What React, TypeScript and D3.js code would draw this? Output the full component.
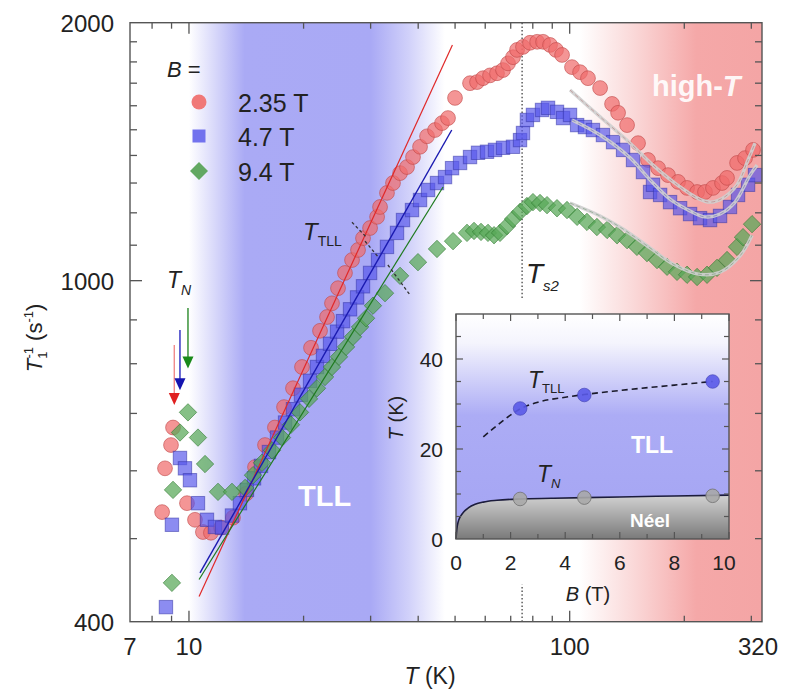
import React from 'react';
import * as d3 from 'd3';

// ---------- DATA (T in K, 1/T1 in s^-1) ----------
const seriesLabels = ['2.35 T', '4.7 T', '9.4 T'];

const red235: [number, number][] = [
  [8.5, 537], [8.65, 604], [8.97, 643], [9.08, 674], [9.88, 550], [10.37, 526], [10.88, 509], [11.42, 508],
  [12.14, 515], [13.05, 529], [14.12, 564], [14.91, 606], [15.84, 643], [16.82, 674], [17.77, 712], [18.76, 749],
  [19.81, 793], [20.92, 835], [22.09, 874], [23.05, 907], [23.75, 941], [24.63, 980], [25.69, 1021], [26.81, 1057],
  [27.8, 1086], [28.65, 1121], [29.9, 1152], [31.2, 1187], [31.76, 1219], [33.12, 1266], [34.35, 1300], [35.85, 1335],
  [37.39, 1357], [38.77, 1394], [40.45, 1433], [42.2, 1474], [44.29, 1499], [46.2, 1527], [47.91, 1548], [49.98, 1634],
  [54.73, 1700], [57.1, 1705], [59.2, 1723], [61.77, 1736], [64.43, 1746], [66.82, 1761], [68.87, 1793], [70.98, 1823],
  [72.73, 1859], [75.4, 1874], [78.68, 1895], [82.13, 1900], [85.13, 1900], [88.8, 1884], [92.07, 1859], [95.5, 1834],
  [101.4, 1775], [106.5, 1751], [111.7, 1723], [120.2, 1678], [129.2, 1608], [134.0, 1570], [141.5, 1519], [151.2, 1447],
  [160.6, 1383], [170.7, 1353], [181.2, 1328], [192.6, 1304], [203.4, 1283], [216.1, 1269], [226.7, 1269], [237.9, 1283],
  [251.3, 1300], [259.0, 1318], [275.2, 1372], [288.8, 1390], [303.1, 1421],
];

const blue47: [number, number][] = [
  [8.7, 416], [9.02, 519], [9.47, 621], [9.76, 604], [10.06, 585], [10.56, 550], [11.15, 526], [11.7, 516],
  [12.21, 515], [12.97, 532], [13.61, 550], [14.2, 570], [14.82, 588], [15.46, 608], [16.22, 631], [17.03, 656],
  [17.88, 683], [18.76, 708], [19.69, 736], [20.8, 764], [21.69, 793], [22.49, 817], [23.47, 844], [24.49, 872],
  [25.39, 897], [26.49, 926], [27.64, 956], [28.65, 985], [29.9, 1021], [31.38, 1057], [33.12, 1095], [35.19, 1137],
  [36.49, 1177], [38.53, 1209], [40.45, 1242], [42.46, 1276], [44.82, 1300], [47.05, 1321], [49.09, 1353], [51.53, 1372],
  [54.73, 1394], [57.44, 1410], [60.65, 1414], [63.66, 1421], [66.82, 1429], [70.98, 1433], [74.06, 1459], [75.4, 1487],
  [77.21, 1540], [80.09, 1561], [84.59, 1582], [87.73, 1591], [92.62, 1574], [96.07, 1548], [100.2, 1561], [104.6, 1519],
  [109.7, 1511], [115.1, 1499], [122.3, 1479], [130.0, 1451], [138.1, 1421], [146.7, 1383], [155.8, 1339], [162.6, 1269],
  [165.5, 1294], [172.8, 1259], [183.5, 1235], [195.0, 1215], [207.1, 1196], [220.0, 1183], [233.7, 1177], [248.3, 1190],
  [263.7, 1219], [276.8, 1259], [294.1, 1294], [306.8, 1328],
];

const green94: [number, number][] = [
  [9.02, 444], [9.08, 570], [9.47, 665], [9.94, 702], [10.56, 656], [11.02, 611], [11.92, 567], [12.97, 567],
  [14.04, 573], [14.73, 593], [15.55, 613], [16.52, 634], [17.55, 656], [18.53, 679], [19.57, 702], [20.67, 728],
  [21.69, 749], [22.77, 772], [23.75, 793], [24.78, 815], [25.86, 837], [26.97, 860], [28.14, 883], [29.18, 904],
  [30.43, 935], [32.73, 967], [35.85, 1013], [39.95, 1051], [44.82, 1089], [49.39, 1112], [53.74, 1137], [56.07, 1143],
  [58.49, 1140], [61.01, 1137], [63.29, 1130], [65.62, 1137], [68.45, 1158], [70.98, 1180], [74.06, 1203], [77.21, 1222],
  [80.09, 1235], [83.58, 1232], [87.2, 1225], [92.62, 1215], [98.4, 1209], [104.6, 1187], [111.0, 1171], [117.9, 1155],
  [125.4, 1146], [133.2, 1130], [141.5, 1115], [150.2, 1095], [159.6, 1077], [169.6, 1057], [180.2, 1038], [191.4, 1024],
  [203.4, 1016], [216.1, 1010], [229.5, 1016], [243.8, 1035], [259.0, 1057], [275.2, 1095], [285.3, 1124], [301.3, 1164],
];

// power-law (TLL) fits
const redTLLFit: [number, number][] = [[10.63, 428], [49.2, 1884]];
const blueTLLFit: [number, number][] = [[10.69, 456], [49.0, 1499]];
const greenTLLFit: [number, number][] = [[10.63, 448], [46.5, 1286]];

// high-T fits
const redHighFit: [number, number][] = [
  [100.2, 1669], [120.2, 1553], [144.1, 1447], [165.5, 1364], [191.4, 1294], [216.1, 1249], [233.7, 1235],
  [252.8, 1249], [275.2, 1294], [294.1, 1383], [306.8, 1447],
];
const blueHighFit: [number, number][] = [
  [101.4, 1540], [120.2, 1479], [144.1, 1391], [162.6, 1311], [183.5, 1245], [207.1, 1206], [226.7, 1187],
  [248.3, 1196], [271.9, 1235], [297.7, 1328], [310.6, 1364],
];
const greenHighFit: [number, number][] = [
  [100.2, 1232], [120.2, 1190], [138.1, 1149], [162.6, 1092], [186.8, 1046], [220.0, 1017], [248.3, 1023],
  [280.2, 1069], [301.3, 1130],
];

// T_TLL marks on the fits: [T0, R0, T1, R1]
const ttllMarks: [number, number, number, number][] = [
  [26.8, 1170, 29.4, 1121],
  [29.0, 1112, 31.6, 1062],
  [33.3, 1043, 38.1, 962],
];

// T_N arrows: [T, R start, R tip]
const tnArrows: [number, number, number][] = [
  [9.15, 841, 716],
  [9.47, 876, 745],
  [9.94, 929, 790],
];

const Ts2 = 75;
const xTicks = [8, 9, 10, 20, 30, 40, 50, 60, 70, 80, 90, 100, 200, 300];
const xLabels = [7, 10, 100, 320];
const yTicks = [500, 600, 700, 800, 900, 1000, 1100, 1200, 1300, 1400, 1500, 1600, 1700, 1800, 1900];
const yLabels = [400, 1000, 2000];

// inset: phase diagram
const insetB = [2.35, 4.7, 9.4];
const insetTTLL = [29, 32, 35];
const insetTN = [8.9, 9.2, 9.6];
const ttllCurve: [number, number][] = [
  [1.0, 22.7], [1.6, 25.7], [2.35, 28.9], [3.0, 30.4], [4.0, 31.5], [4.7, 32.1], [6.0, 33.0], [8.0, 34.2], [9.4, 35],
];
const tnCurve: [number, number][] = [
  [0, 0], [0.03, 2.2], [0.08, 3.8], [0.16, 5.0], [0.28, 6.0], [0.45, 6.9], [0.7, 7.7], [1.0, 8.2], [1.5, 8.6],
  [2.35, 8.9], [3.5, 9.05], [4.7, 9.2], [6.0, 9.35], [8.0, 9.55], [10, 9.75],
];
const insetXTicks = [0, 1, 2, 3, 4, 5, 6, 7, 8, 9, 10];
const insetXLabels = [0, 2, 4, 6, 8, 10];
const insetYTicks = [5, 10, 15, 20, 25, 30, 35, 40, 45];
const insetYLabels = [0, 20, 40];

const FONT = '"Liberation Sans", Arial, Helvetica, sans-serif';

export default function App() {
  const L = 130, R = 762, T = 22.7, B = 621.7;
  const x = d3.scaleLog().domain([7, 320]).range([L, R]);
  const y = d3.scaleLog().domain([400, 2000]).range([B, T]);
  const line = d3.line<[number, number]>().x(d => x(d[0])).y(d => y(d[1]));
  const smooth = d3.line<[number, number]>().x(d => x(d[0])).y(d => y(d[1])).curve(d3.curveCatmullRom);

  const iL = 456, iR = 729, iT = 314, iB = 539;
  const ix = d3.scaleLinear().domain([0, 10]).range([iL, iR]);
  const iy = d3.scaleLinear().domain([0, 50]).range([iB, iT]);
  const iLine = d3.line<[number, number]>().x(d => ix(d[0])).y(d => iy(d[1])).curve(d3.curveMonotoneX);
  const neelArea = d3.area<[number, number]>().x(d => ix(d[0])).y0(iB).y1(d => iy(d[1])).curve(d3.curveMonotoneX);

  const off = (t: number) => ((x(t) - L) / (R - L)).toFixed(4);

  const diamond = (cx: number, cy: number, h: number) => `M${cx},${cy - h}L${cx + h},${cy}L${cx},${cy + h}L${cx - h},${cy}Z`;

  const redFill = '#f06c6c', redStroke = '#c04848';
  const blueFill = '#5656ea', blueStroke = '#3434a8';
  const greenFill = '#58a858', greenStroke = '#2f7a2f';

  const axisColor = '#555';
  const textColor = '#222';

  return (
    <svg width={788} height={693} style={{ position: 'absolute', left: 0, top: 0, display: 'block' }} fontFamily={FONT}>
      <defs>
        <linearGradient id="bg" gradientUnits="userSpaceOnUse" x1={L} x2={R} y1={0} y2={0}>
          <stop offset={0} stopColor="#ffffff" />
          <stop offset={off(10.0)} stopColor="#ffffff" />
          <stop offset={off(11.6)} stopColor="#dadafa" />
          <stop offset={off(14.0)} stopColor="#aaaaf5" />
          <stop offset={off(30)} stopColor="#a9a9f5" />
          <stop offset={off(38)} stopColor="#d2d2fa" />
          <stop offset={off(47)} stopColor="#ffffff" />
          <stop offset={off(106)} stopColor="#ffffff" />
          <stop offset={off(150)} stopColor="#fad6d6" />
          <stop offset={off(215)} stopColor="#f5a8a8" />
          <stop offset={1} stopColor="#f4a5a5" />
        </linearGradient>
        <linearGradient id="ibg" gradientUnits="userSpaceOnUse" x1={0} x2={0} y1={iT} y2={iB}>
          <stop offset={0} stopColor="#ffffff" />
          <stop offset={0.13} stopColor="#f4f4fd" />
          <stop offset={0.45} stopColor="#acacf5" />
          <stop offset={1} stopColor="#a4a4f3" />
        </linearGradient>
        <linearGradient id="neel" gradientUnits="userSpaceOnUse" x1={0} x2={0} y1={iy(10)} y2={iB}>
          <stop offset={0} stopColor="#d4d4d4" />
          <stop offset={1} stopColor="#7a7a7a" />
        </linearGradient>
      </defs>

      {/* background */}
      <rect x={L} y={T} width={R - L} height={B - T} fill="url(#bg)" />

      {/* Ts2 dotted line */}
      <line x1={x(Ts2)} x2={x(Ts2)} y1={y(2000)} y2={y(950)} stroke="#666" strokeWidth={1.6} strokeDasharray="1.5,2.2" />
      <line x1={x(Ts2)} x2={x(Ts2)} y1={y(400)} y2={y(442)} stroke="#666" strokeWidth={1.6} strokeDasharray="1.5,2.2" />

      {/* data */}
      <g>
        {red235.map((d, i) => (
          <circle key={'r' + i} cx={x(d[0])} cy={y(d[1])} r={7.4} fill={redFill} fillOpacity={0.72} stroke={redStroke} strokeOpacity={0.6} strokeWidth={1} />
        ))}
      </g>
      <g>
        {blue47.map((d, i) => (
          <rect key={'b' + i} x={x(d[0]) - 6.7} y={y(d[1]) - 6.7} width={13.4} height={13.4} fill={blueFill} fillOpacity={0.68} stroke={blueStroke} strokeOpacity={0.55} strokeWidth={1} />
        ))}
      </g>
      <g>
        {green94.map((d, i) => (
          <path key={'g' + i} d={diamond(x(d[0]), y(d[1]), 8.7)} fill={greenFill} fillOpacity={0.72} stroke={greenStroke} strokeOpacity={0.6} strokeWidth={1} />
        ))}
      </g>

      {/* TLL power-law fits */}
      <path d={line(redTLLFit) || ''} stroke="#e02828" strokeWidth={1.2} fill="none" />
      <path d={line(blueTLLFit) || ''} stroke="#1a1ab0" strokeWidth={1.4} fill="none" />
      <path d={line(greenTLLFit) || ''} stroke="#1e7a1e" strokeWidth={1.2} fill="none" />

      {/* high-T fits */}
      {[
        [redHighFit, '#a03030'],
        [blueHighFit, '#2020a0'],
        [greenHighFit, '#2a6a2a'],
      ].map(([data, col], i) => (
        <g key={'hf' + i}>
          <path d={smooth(data as [number, number][]) || ''} stroke="#cfcfcf" strokeOpacity={0.92} strokeWidth={3.4} fill="none" />
          <path d={smooth(data as [number, number][]) || ''} stroke={col as string} strokeOpacity={0.4} strokeWidth={0.8} strokeDasharray="4,3" fill="none" />
        </g>
      ))}

      {/* T_TLL marks */}
      {ttllMarks.map((m, i) => (
        <line key={'tm' + i} x1={x(m[0])} y1={y(m[1])} x2={x(m[2])} y2={y(m[3])} stroke="#333" strokeWidth={1.3} strokeDasharray="3,2.5" />
      ))}

      {/* T_N arrows */}
      {tnArrows.map((a, i) => {
        const cols = [['#f08a8a', '#e02020'], ['#2828c0', '#1414b0'], ['#2a8a2a', '#1a8a1a']][i];
        const ax = x(a[0]);
        const y0 = y(a[1]);
        const y1 = y(a[2]);
        return (
          <g key={'ar' + i}>
            <line x1={ax} x2={ax} y1={y0} y2={y1 - 10} stroke={cols[0]} strokeWidth={1.4} />
            <path d={`M${ax - 5.5},${y1 - 12}L${ax + 5.5},${y1 - 12}L${ax},${y1}Z`} fill={cols[1]} />
          </g>
        );
      })}

      {/* frame & ticks */}
      <rect x={L} y={T} width={R - L} height={B - T} fill="none" stroke={axisColor} strokeWidth={1.4} />
      {xTicks.map(t => {
        const len = t === 10 || t === 100 ? 11 : 6;
        return (
          <g key={'xt' + t} stroke={axisColor} strokeWidth={1.3}>
            <line x1={x(t)} x2={x(t)} y1={B} y2={B - len} />
            <line x1={x(t)} x2={x(t)} y1={T} y2={T + len} />
          </g>
        );
      })}
      {yTicks.map(t => {
        const len = t === 1000 ? 12 : 7;
        return (
          <g key={'yt' + t} stroke={axisColor} strokeWidth={1.3}>
            <line x1={L} x2={L + len} y1={y(t)} y2={y(t)} />
            <line x1={R} x2={R - len} y1={y(t)} y2={y(t)} />
          </g>
        );
      })}
      {xLabels.map(t => (
        <text key={'xl' + t} x={t === 320 ? x(t) - 4 : x(t)} y={655} fontSize={24} textAnchor="middle" fill={textColor}>{t}</text>
      ))}
      {yLabels.map(t => (
        <text key={'yl' + t} x={114} y={y(t) + 9} fontSize={24} textAnchor="end" fill={textColor}>{t}</text>
      ))}

      {/* axis titles */}
      <text x={430} y={684} fontSize={23} textAnchor="middle" fill={textColor}>
        <tspan fontStyle="italic">T</tspan> (K)
      </text>
      <text transform="translate(42,338) rotate(-90)" fontSize={22} textAnchor="middle" fill={textColor}>
        <tspan fontStyle="italic">T</tspan>
        <tspan fontSize={13} dy={5}>1</tspan>
        <tspan fontSize={13} dx={-7} dy={-14}>-1</tspan>
        <tspan dy={9}> (s</tspan>
        <tspan fontSize={13} dy={-9}>-1</tspan>
        <tspan dy={9}>)</tspan>
      </text>

      {/* legend */}
      <text x={167} y={77} fontSize={22} fill={textColor}>
        <tspan fontStyle="italic">B</tspan> =
      </text>
      {seriesLabels.map((s, i) => {
        const cy = [102, 136, 171][i];
        return (
          <g key={'lg' + i}>
            {i === 0 && <circle cx={199} cy={cy} r={7.5} fill="#f07878" />}
            {i === 1 && <rect x={192.5} y={cy - 6.5} width={13} height={13} fill="#7272ee" />}
            {i === 2 && <path d={diamond(199, cy, 9)} fill="#62a862" />}
            <text x={238} y={cy + 10} fontSize={25} fill={textColor}>{s}</text>
          </g>
        );
      })}

      {/* annotations */}
      <text x={303} y={240} fontSize={24} fill={textColor}>
        <tspan fontStyle="italic">T</tspan>
        <tspan fontSize={14} dy={6}>TLL</tspan>
      </text>
      <text x={167} y={288} fontSize={23} fill={textColor}>
        <tspan fontStyle="italic">T</tspan>
        <tspan fontSize={14} fontStyle="italic" dy={7}>N</tspan>
      </text>
      <text x={526} y={283} fontSize={28} fill={textColor}>
        <tspan fontStyle="italic">T</tspan>
        <tspan fontSize={15} fontStyle="italic" dy={8}>s2</tspan>
      </text>
      <text x={298} y={506} fontSize={29} fontWeight="bold" fill="#ffffff">TLL</text>
      <text x={652} y={96} fontSize={29} fontWeight="bold" fill="#ffffff" fillOpacity={0.92}>
        high-<tspan fontStyle="italic">T</tspan>
      </text>

      {/* ---------- inset ---------- */}
      <rect x={iL} y={iT} width={iR - iL} height={iB - iT} fill="url(#ibg)" />
      <path d={neelArea(tnCurve) || ''} fill="url(#neel)" />
      <path d={iLine(tnCurve) || ''} stroke="#1c1c3c" strokeWidth={1.6} fill="none" />
      <path d={iLine(ttllCurve) || ''} stroke="#1a1a2a" strokeWidth={1.6} strokeDasharray="6,4" fill="none" />
      {insetB.map((b, i) => (
        <g key={'ip' + i}>
          <circle cx={ix(b)} cy={iy(insetTTLL[i])} r={6.8} fill="#5a5ae8" fillOpacity={0.9} stroke="#4040b0" strokeOpacity={0.6} />
          <circle cx={ix(b)} cy={iy(insetTN[i])} r={6.8} fill="#a8a8a8" fillOpacity={0.9} stroke="#707070" strokeOpacity={0.8} />
        </g>
      ))}
      <rect x={iL} y={iT} width={iR - iL} height={iB - iT} fill="none" stroke={axisColor} strokeWidth={1.4} />
      {insetXTicks.map(t => {
        const len = insetXLabels.includes(t) ? 7 : 5;
        return (
          <g key={'ixt' + t} stroke={axisColor} strokeWidth={1.2}>
            <line x1={ix(t)} x2={ix(t)} y1={iB} y2={iB - len} />
            <line x1={ix(t)} x2={ix(t)} y1={iT} y2={iT + len} />
          </g>
        );
      })}
      {insetYTicks.map(t => {
        const len = insetYLabels.includes(t) ? 7 : 5;
        return (
          <g key={'iyt' + t} stroke={axisColor} strokeWidth={1.2}>
            <line x1={iL} x2={iL + len} y1={iy(t)} y2={iy(t)} />
            <line x1={iR} x2={iR - len} y1={iy(t)} y2={iy(t)} />
          </g>
        );
      })}
      {insetXLabels.map(t => (
        <text key={'ixl' + t} x={t === 10 ? ix(t) - 5 : ix(t)} y={570} fontSize={21} textAnchor="middle" fill={textColor}>{t}</text>
      ))}
      {insetYLabels.map(t => (
        <text key={'iyl' + t} x={443} y={iy(t) + 8} fontSize={21} textAnchor="end" fill={textColor}>{t}</text>
      ))}
      <text x={588} y={601} fontSize={20} textAnchor="middle" fill={textColor}>
        <tspan fontStyle="italic">B</tspan> (T)
      </text>
      <text transform="translate(403,418) rotate(-90)" fontSize={20} textAnchor="middle" fill={textColor}>
        <tspan fontStyle="italic">T</tspan> (K)
      </text>
      <text x={528} y={388} fontSize={23} fill={textColor}>
        <tspan fontStyle="italic">T</tspan>
        <tspan fontSize={13} dy={5}>TLL</tspan>
      </text>
      <text x={537} y={482} fontSize={23} fill={textColor}>
        <tspan fontStyle="italic">T</tspan>
        <tspan fontSize={13} fontStyle="italic" dy={6}>N</tspan>
      </text>
      <text x={652} y={453} fontSize={23} fontWeight="bold" textAnchor="middle" fill="#ffffff">TLL</text>
      <text x={650} y={527} fontSize={19} fontWeight="bold" textAnchor="middle" fill="#ffffff">Néel</text>
    </svg>
  );
}
